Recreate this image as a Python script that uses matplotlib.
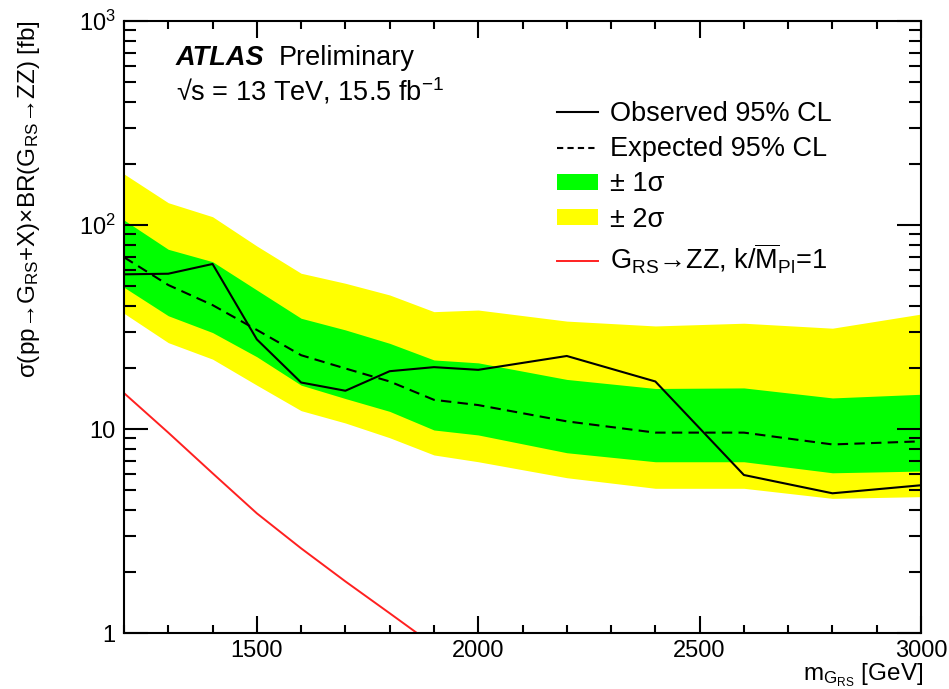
import matplotlib
matplotlib.use("Agg")
import matplotlib.pyplot as plt
from matplotlib.lines import Line2D
from matplotlib.patches import Patch
from matplotlib.ticker import FixedLocator, FixedFormatter, MultipleLocator, NullFormatter

plt.rcParams['font.family'] = ['Liberation Sans', 'DejaVu Sans']
plt.rcParams['mathtext.fontset'] = 'custom'
plt.rcParams['mathtext.rm'] = 'Liberation Sans'
plt.rcParams['mathtext.it'] = 'Liberation Sans'
plt.rcParams['mathtext.bf'] = 'Liberation Sans:bold'

# graviton mass points [GeV]
mass = [1200, 1300, 1400, 1500, 1600, 1700, 1800, 1900, 2000, 2200, 2400, 2600, 2800, 3000]
observed = [57.3, 57.7, 64.4, 27.5, 16.9, 15.4, 19.2, 20.1, 19.5, 22.8, 17.1, 5.95, 4.84, 5.3]
expected = [69.5, 50.8, 40.5, 30.6, 23.0, 19.8, 17.1, 13.9, 13.1, 10.9, 9.6, 9.6, 8.4, 8.7]
sig1_hi = [105.8, 76.0, 66.1, 48.0, 34.9, 30.6, 26.3, 21.8, 21.1, 17.5, 15.8, 15.9, 14.2, 14.8]
sig1_lo = [49.5, 35.9, 29.7, 22.6, 16.4, 14.1, 12.2, 9.89, 9.35, 7.65, 6.91, 6.91, 6.1, 6.22]
sig2_hi = [178, 128.6, 109.8, 78.9, 58.0, 51.8, 45.4, 37.6, 38.3, 33.8, 32.0, 33.0, 31.2, 36.6]
sig2_lo = [36.9, 26.5, 22.0, 16.4, 12.3, 10.7, 9.06, 7.46, 6.91, 5.77, 5.12, 5.12, 4.57, 4.66]

# RS graviton theory curve
theory_mass = [1200, 1300, 1400, 1500, 1600, 1700, 1800, 1900]
theory_xsec = [15.0, 9.6, 6.07, 3.86, 2.60, 1.79, 1.25, 0.87]

fig = plt.figure(figsize=(9.49, 6.89), dpi=100)
ax = fig.add_axes([124 / 949, 1 - 633 / 689, 797 / 949, 612 / 689])

ax.fill_between(mass, sig2_lo, sig2_hi, color='#ffff00', lw=0)
ax.fill_between(mass, sig1_lo, sig1_hi, color='#00ff00', lw=0)
ax.plot(mass, expected, color='black', lw=1.5, ls=(0, (5, 3)))
ax.plot(mass, observed, color='black', lw=1.5)
ax.plot(theory_mass, theory_xsec, color='#ff2020', lw=1.4)

ax.set_xlim(1200, 3000)
ax.set_yscale('log')
ax.set_ylim(1, 1000)

for s in ax.spines.values():
    s.set_linewidth(1.5)

ax.xaxis.set_major_locator(MultipleLocator(500))
ax.xaxis.set_minor_locator(MultipleLocator(100))
ax.yaxis.set_major_locator(FixedLocator([1, 10, 100, 1000]))
ax.yaxis.set_major_formatter(FixedFormatter(['1', '10', '$10^2$', '$10^3$']))
minors = [m * 10 ** e for e in range(0, 3) for m in range(2, 10)]
ax.yaxis.set_minor_locator(FixedLocator(minors))
ax.yaxis.set_minor_formatter(NullFormatter())

ax.tick_params(which='both', direction='in', top=True, right=True, width=1.5, labelsize=17)
ax.tick_params(axis='x', which='major', length=12, pad=5)
ax.tick_params(axis='x', which='minor', length=6)
ax.tick_params(axis='y', which='major', length=17, pad=6)
ax.tick_params(axis='y', which='minor', length=8.5)

# axis titles
fig.text(29 / 949, 1 - 20 / 689,
         'σ(pp→G$_{RS}$+X)×BR(G$_{RS}$→ZZ) [fb]',
         rotation=90, ha='center', va='top', fontsize=17.5)
fig.text(923 / 949, 1 - 680 / 689, r'm$_{G_{RS}}$ [GeV]', ha='right', va='baseline', fontsize=17.5)

# ATLAS label
fig.text(176 / 949, 1 - 65 / 689, 'ATLAS', fontsize=19.5, fontweight='bold', fontstyle='italic')
fig.text(279 / 949, 1 - 65 / 689, 'Preliminary', fontsize=19.5)
fig.text(176 / 949, 1 - 101 / 689, '√s = 13 TeV, 15.5 fb$^{-1}$', fontsize=19.5)

handles = [
    Line2D([], [], color='black', lw=1.5),
    Line2D([], [], color='black', lw=1.5, ls=(0, (3, 2))),
    Patch(facecolor='#00ff00', lw=0),
    Patch(facecolor='#ffff00', lw=0),
    Line2D([], [], color='#ff2020', lw=1.4),
]
labels = ['Observed 95% CL', 'Expected 95% CL', '± 1σ', '± 2σ',
          r'G$_{RS}$→ZZ, k/$\overline{\rm M}_{Pl}$=1']
ax.legend(handles, labels, loc='upper left', bbox_to_anchor=(557 / 949, 1 - 101 / 689),
          bbox_transform=fig.transFigure, frameon=False, fontsize=19.5,
          handlelength=1.5, handleheight=0.5, handletextpad=0.45, labelspacing=0.34,
          borderpad=0, borderaxespad=0)

fig.savefig('out.png', dpi=100)
